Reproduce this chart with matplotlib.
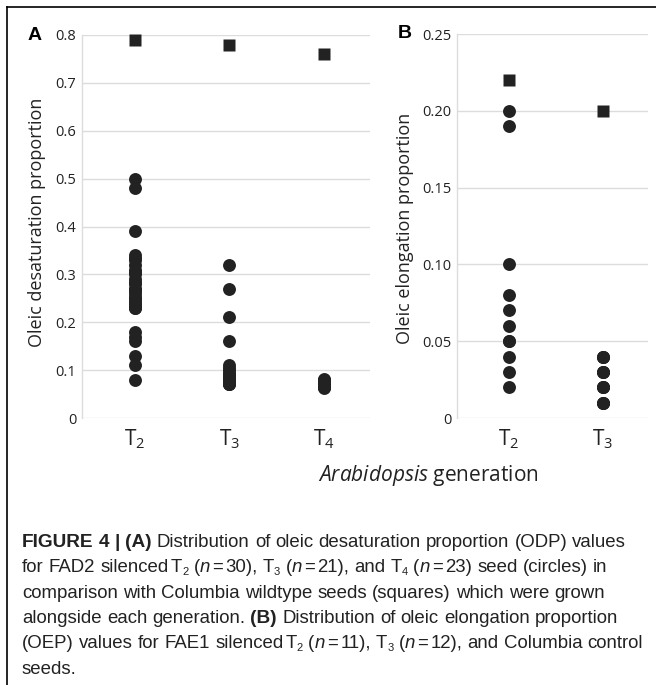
import re
import matplotlib
matplotlib.use('Agg')
import matplotlib.pyplot as plt
from matplotlib.font_manager import FontProperties
from matplotlib.lines import Line2D

plt.rcParams['font.family'] = ['Open Sans', 'DejaVu Sans']
plt.rcParams['mathtext.fontset'] = 'custom'
plt.rcParams['mathtext.rm'] = 'Open Sans'
plt.rcParams['mathtext.it'] = 'Open Sans:italic'
plt.rcParams['mathtext.bf'] = 'Open Sans:bold'

# ---- data ----
odp_gen = ['T$_2$', 'T$_3$', 'T$_4$']
odp_wt = [0.79, 0.78, 0.76]
odp_t2 = [0.50, 0.48, 0.39, 0.34, 0.335, 0.33, 0.32, 0.31, 0.305, 0.30, 0.29,
          0.285, 0.28, 0.27, 0.27, 0.265, 0.26, 0.25, 0.25, 0.245, 0.24, 0.235,
          0.23, 0.23, 0.18, 0.17, 0.16, 0.13, 0.11, 0.08]
odp_t3 = [0.32, 0.27, 0.21, 0.16, 0.11, 0.105, 0.10, 0.095, 0.09, 0.09, 0.085,
          0.085, 0.08, 0.08, 0.08, 0.075, 0.075, 0.075, 0.07, 0.07, 0.07]
odp_t4 = [0.081, 0.08, 0.079, 0.078, 0.077, 0.076, 0.075, 0.074, 0.073, 0.072,
          0.072, 0.071, 0.07, 0.07, 0.069, 0.068, 0.068, 0.067, 0.066, 0.065,
          0.065, 0.064, 0.063]

oep_gen = ['T$_2$', 'T$_3$']
oep_wt = [0.22, 0.20]
oep_t2 = [0.20, 0.19, 0.10, 0.08, 0.07, 0.06, 0.05, 0.05, 0.04, 0.03, 0.02]
oep_t3 = [0.04, 0.04, 0.04, 0.03, 0.03, 0.03, 0.02, 0.02, 0.02, 0.01, 0.01, 0.01]

# '#' marks a narrow gap in the caption
caption = [
    "*FIGURE 4 | (A)* Distribution of oleic desaturation proportion (ODP) values",
    "for FAD2 silenced#T~2~ (_n_#=#30), T~3~ (_n_#=#21), and T~4~ (_n_#=#23) seed (circles) in",
    "comparison with Columbia wildtype seeds (squares) which were grown",
    "alongside each generation. *(B)* Distribution of oleic elongation proportion",
    "(OEP) values for FAE1 silenced#T~2~ (_n_#=#11), T~3~ (_n_#=#12), and Columbia control",
    "seeds.",
]

W, H = 656, 685
ink = '#222222'
grid = '#dcdcdc'

fig = plt.figure(figsize=(W / 100, H / 100), dpi=100)
axA = fig.add_axes([82 / W, 1 - 418 / H, (370 - 82) / W, (418 - 35) / H])
axB = fig.add_axes([457 / W, 1 - 418 / H, (648 - 457) / W, (418 - 34) / H])


def style(ax):
    for s in ['top', 'right', 'bottom']:
        ax.spines[s].set_visible(False)
    ax.spines['left'].set_color(grid)
    ax.spines['left'].set_linewidth(1)
    ax.grid(axis='y', color=grid, lw=1)
    ax.set_axisbelow(True)
    ax.tick_params(length=0, colors=ink)
    ax.tick_params(axis='y', labelsize=10.5, pad=4)
    ax.tick_params(axis='x', labelsize=15, pad=7)


def dots(ax, x, vals, m):
    ax.plot([x] * len(vals), vals, m, ms=9.3, color=ink, mec='none', clip_on=False)


# panel A
style(axA)
for i, v in enumerate([odp_t2, odp_t3, odp_t4]):
    dots(axA, i + 1, v, 'o')
for i, v in enumerate(odp_wt):
    dots(axA, i + 1, [v], 's')
axA.set_xlim(0.44, 3.49)
axA.set_ylim(0, 0.8)
axA.set_yticks([0, 0.1, 0.2, 0.3, 0.4, 0.5, 0.6, 0.7, 0.8])
axA.set_yticklabels(['0', '0.1', '0.2', '0.3', '0.4', '0.5', '0.6', '0.7', '0.8'])
axA.set_xticks([1, 2, 3])
axA.set_xticklabels(odp_gen)

# panel B
style(axB)
dots(axB, 1, oep_t2, 'o')
dots(axB, 2, oep_t3, 'o')
for i, v in enumerate(oep_wt):
    dots(axB, i + 1, [v], 's')
axB.set_xlim(0.447, 2.48)
axB.set_ylim(0, 0.25)
axB.set_yticks([0, 0.05, 0.10, 0.15, 0.20, 0.25])
axB.set_yticklabels(['0', '0.05', '0.10', '0.15', '0.20', '0.25'])
axB.set_xticks([1, 2])
axB.set_xticklabels(oep_gen)

fig.text(37 / W, 1 - 222 / H, 'Oleic desaturation proportion', rotation=90,
         ha='center', va='center', size=13, color=ink)
fig.text(405 / W, 1 - 228 / H, 'Oleic elongation proportion', rotation=90,
         ha='center', va='center', size=13, color=ink)
fig.text(35 / W, 1 - 35 / H, 'A', ha='center', va='center', size=14,
         weight='bold', family='Liberation Sans', color='k')
fig.text(405 / W, 1 - 34 / H, 'B', ha='center', va='center', size=14,
         weight='bold', family='Liberation Sans', color='k')
fig.text(428 / W, 1 - 476 / H, r'$\it{Arabidopsis}$ generation', ha='center',
         va='center', size=15, color=ink)

# frame lines
fig.add_artist(Line2D([7 / W, 7 / W], [0, 1 - 7 / H], transform=fig.transFigure,
                      color='k', lw=1.2))
fig.add_artist(Line2D([7 / W, 1], [1 - 7 / H, 1 - 7 / H], transform=fig.transFigure,
                      color='k', lw=1.2))

# caption, drawn piece by piece
cap_fam = ['Liberation Sans Narrow', 'Liberation Sans']
cap_size = 13.4
renderer = fig.canvas.get_renderer()


def props(kind):
    if kind == 'b':
        return FontProperties(family=cap_fam, size=cap_size + 0.3, weight='bold')
    if kind == 'i':
        return FontProperties(family=cap_fam, size=cap_size, style='italic')
    if kind == 'sub':
        return FontProperties(family=cap_fam, size=cap_size * 0.6)
    return FontProperties(family=cap_fam, size=cap_size)


def width(s, fp):
    w1 = renderer.get_text_width_height_descent('|' + s + '|', fp, ismath=False)[0]
    w0 = renderer.get_text_width_height_descent('||', fp, ismath=False)[0]
    return w1 - w0


for li, line in enumerate(caption):
    y = 547 + 25.3 * li
    x = 22
    for piece in re.split(r'(\*[^*]+\*|_[^_]+_|~[^~]+~)', line):
        if not piece:
            continue
        kind = 'r'
        if piece[0] == '*':
            kind = 'b'
        elif piece[0] == '_':
            kind = 'i'
        elif piece[0] == '~':
            kind = 'sub'
        if kind != 'r':
            piece = piece[1:-1]
        fp = props(kind)
        dy = 3 if kind == 'sub' else 0
        for tok in re.split(r'( |#)', piece):
            if not tok:
                continue
            if tok == '#':
                x += 0.45 * width(' ', fp)
                continue
            if tok != ' ':
                fig.text(x / W, 1 - (y + dy) / H, tok, fontproperties=fp,
                         ha='left', va='baseline', color=ink)
            x += width(tok, fp)

fig.savefig('out.png', dpi=100)
